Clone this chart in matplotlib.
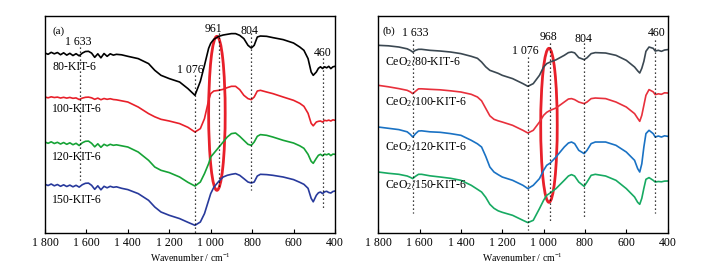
import matplotlib
matplotlib.use("Agg")
import matplotlib.pyplot as plt
from matplotlib.patches import Ellipse

plt.rcParams["font.family"] = ["Liberation Serif", "DejaVu Serif"]
plt.rcParams["mathtext.fontset"] = "custom"
plt.rcParams["mathtext.rm"] = "Liberation Serif"
plt.rcParams["mathtext.it"] = "Liberation Serif:italic"
plt.rcParams["font.size"] = 8.5

# ---- panel (a): KIT-6 supports (transmittance, arbitrary units, offset) ----
WN_A = [1800, 1785, 1770, 1755, 1740, 1725, 1710, 1695, 1680, 1665, 1650, 1635,
        1620, 1605, 1590, 1575, 1560, 1545, 1530, 1515, 1500, 1485, 1470, 1455,
        1430, 1400, 1350, 1300, 1270, 1240, 1200, 1150, 1110, 1076,
        1050, 1030, 1010, 1000, 985, 961, 940, 920, 900, 880,
        860, 840, 820, 804, 790, 775, 760, 730, 700, 650,
        600, 570, 550, 530, 515, 505, 490, 480, 470, 460,
        450, 440, 430, 420, 410, 400]

KIT_80 = [180.3, 179.0, 181.0, 179.5, 180.8, 178.6, 180.5, 178.2, 180.0, 177.8, 179.6, 177.5,
          180.2, 181.8, 182.0, 180.2, 176.0, 179.5, 175.5, 179.8, 177.0, 179.5, 178.2, 179.0,
          178.5, 177.0, 174.7, 169.7, 163.0, 158.0, 154.7, 151.3, 144.7, 138.0,
          152.0, 168.0, 185.0, 190.0, 194.0, 197.0, 198.3, 199.0, 199.7, 199.7,
          198.0, 194.7, 188.0, 185.3, 188.0, 196.3, 197.3, 197.0, 195.7, 193.7,
          190.3, 186.3, 183.0, 174.7, 161.3, 158.0, 161.3, 165.0, 166.5, 164.8,
          166.5, 165.5, 167.0, 164.7, 166.5, 167.0]

KIT_100 = [136.3, 135.5, 136.5, 135.8, 136.2, 135.3, 136.0, 135.2, 135.9, 135.0, 135.4, 133.8,
           135.2, 136.0, 136.2, 135.5, 134.0, 135.2, 133.6, 134.8, 134.0, 134.6, 133.8, 133.5,
           132.5, 131.3, 126.3, 119.7, 116.5, 114.0, 112.3, 109.7, 106.0, 101.3,
           104.7, 114.7, 133.0, 139.7, 142.3, 143.0, 144.0, 145.7, 147.0, 147.0,
           143.7, 138.0, 134.7, 133.7, 136.3, 142.3, 143.0, 141.3, 139.7, 136.3,
           133.0, 130.0, 127.0, 120.0, 110.0, 107.5, 111.3, 112.0, 112.3, 111.3,
           113.0, 112.5, 113.2, 112.3, 113.5, 113.0]

KIT_120 = [91.3, 90.0, 91.5, 89.8, 91.0, 89.3, 90.8, 89.0, 90.5, 88.6, 90.0, 87.8,
           90.5, 92.0, 92.2, 90.0, 86.5, 89.5, 86.0, 89.0, 87.5, 89.0, 88.0, 88.5,
           87.5, 86.3, 81.3, 73.0, 66.3, 63.0, 60.7, 56.3, 51.0, 47.3,
           51.3, 59.7, 69.7, 76.3, 80.0, 86.0, 91.3, 96.3, 99.7, 100.3,
           97.0, 93.0, 89.0, 88.0, 91.3, 97.0, 98.7, 98.0, 96.3, 93.0,
           90.3, 87.5, 85.0, 79.0, 72.0, 70.0, 75.0, 78.0, 79.0, 77.5,
           79.2, 78.5, 79.5, 77.7, 79.2, 79.0]

KIT_150 = [49.0, 47.8, 49.3, 47.5, 48.8, 47.0, 48.5, 46.8, 48.2, 46.5, 48.0, 46.2,
           48.6, 50.0, 50.2, 48.0, 44.0, 47.5, 43.5, 47.0, 45.5, 47.0, 46.0, 46.5,
           45.0, 43.7, 39.7, 33.0, 26.3, 21.3, 18.0, 14.7, 11.0, 8.0,
           11.3, 19.7, 33.0, 39.7, 46.0, 52.0, 56.3, 58.0, 59.0, 59.7,
           58.0, 54.7, 51.3, 50.3, 51.3, 57.3, 59.0, 58.7, 58.0, 56.3,
           53.7, 51.0, 49.0, 45.0, 35.0, 31.5, 38.0, 40.5, 41.3, 39.7,
           41.5, 42.0, 40.8, 40.3, 41.8, 42.3]

# ---- panel (b): CeO2 supported on KIT-6 ----
WN_B = [1800, 1750, 1700, 1660, 1645, 1633, 1620, 1605, 1590, 1550, 1500, 1450,
        1400, 1350, 1320, 1300, 1280, 1260, 1240, 1220, 1200, 1150, 1100, 1076,
        1050, 1020, 1000, 985, 968, 940, 900, 880, 865, 850, 830, 804,
        790, 770, 750, 700, 650, 600, 560, 545, 535, 525, 515, 505,
        490, 470, 460, 445, 430, 415, 400]

CE_80 = [188.0, 187.5, 186.3, 184.5, 183.0, 181.3, 183.0, 184.0, 184.0, 183.0, 182.3, 181.3,
         179.7, 177.0, 175.0, 171.3, 166.5, 163.0, 161.5, 160.0, 158.0, 154.7, 149.7, 147.0,
         149.7, 158.0, 166.3, 169.7, 171.3, 173.5, 178.0, 180.7, 181.3, 180.5, 175.7, 173.7,
         175.5, 179.7, 180.7, 180.3, 178.0, 173.0, 166.3, 162.5, 160.3, 165.0, 172.0, 182.0,
         186.3, 185.0, 182.3, 183.0, 182.0, 183.3, 183.7]

CE_100 = [148.0, 146.5, 144.7, 143.0, 141.5, 139.7, 142.0, 144.5, 144.5, 144.0, 143.5, 142.5,
          141.3, 139.0, 136.3, 132.5, 125.0, 117.5, 114.0, 112.5, 111.3, 108.0, 103.0, 100.3,
          103.0, 111.3, 118.0, 121.0, 123.0, 125.3, 131.3, 134.3, 134.7, 133.7, 131.3, 129.7,
          131.3, 134.7, 135.3, 134.7, 131.3, 126.3, 119.7, 115.0, 112.0, 118.0, 128.0, 138.0,
          143.7, 141.5, 138.7, 139.5, 139.0, 140.5, 140.3]

CE_120 = [106.3, 105.0, 103.7, 101.5, 99.0, 96.3, 99.5, 102.3, 102.5, 101.5, 101.0, 99.7,
          98.0, 93.0, 89.5, 86.3, 77.0, 66.3, 61.3, 58.7, 56.3, 53.0, 48.0, 44.7,
          48.0, 54.7, 63.0, 68.0, 70.3, 76.3, 86.3, 90.3, 91.3, 89.7, 83.0, 79.7,
          83.0, 89.7, 91.3, 91.3, 88.0, 81.3, 73.0, 64.7, 61.3, 69.5, 86.3, 99.7,
          103.0, 99.7, 96.3, 97.3, 96.3, 97.5, 97.0]

CE_150 = [61.3, 60.0, 59.0, 57.3, 56.0, 54.7, 57.0, 59.0, 59.0, 57.5, 56.3, 55.0,
          53.0, 48.0, 44.0, 41.3, 36.0, 29.0, 25.0, 22.5, 21.0, 18.0, 13.0, 10.7,
          13.0, 24.7, 33.0, 38.0, 40.3, 44.7, 53.0, 57.3, 58.7, 57.3, 51.3, 47.0,
          51.3, 58.0, 59.0, 57.3, 53.0, 44.7, 36.3, 31.0, 29.0, 35.0, 45.0, 54.0,
          55.7, 53.0, 51.3, 51.8, 51.5, 52.2, 52.3]

LABELS_A = ["80-KIT-6", "100-KIT-6", "120-KIT-6", "150-KIT-6"]
LABELS_B = [r"CeO$_\mathrm{2}$/80-KIT-6", r"CeO$_\mathrm{2}$/100-KIT-6",
            r"CeO$_\mathrm{2}$/120-KIT-6", r"CeO$_\mathrm{2}$/150-KIT-6"]

XTICKS = [1800, 1600, 1400, 1200, 1000, 800, 600, 400]
XTICK_LABELS = ["1 800", "1 600", "1 400", "1 200", "1 000", "800", "600", "400"]

COLORS_A = ["#000000", "#e8202a", "#16a336", "#283a9c"]
COLORS_B = ["#3b4852", "#e8303c", "#1a72c4", "#17aa62"]


def setup_axis(ax):
    ax.set_xlim(1800, 400)
    ax.set_ylim(0, 217.6)
    ax.set_yticks([])
    ax.set_xticks(XTICKS)
    ax.set_xticklabels(XTICK_LABELS)
    ax.tick_params(axis="x", direction="in", length=3, width=0.8, pad=3)
    ax.set_xlabel("Wavenumber / cm$^{-1}$", fontsize=7, labelpad=1.5)
    for sp in ax.spines.values():
        sp.set_linewidth(1.0)


def vline(ax, x, y0, y1):
    ax.plot([x, x], [y0, y1], color="black", lw=0.9, ls=(0, (1, 2.2)))


fig = plt.figure(figsize=(7.03, 2.73), dpi=100)
ax_a = fig.add_axes([0.064, 0.1454, 0.4125, 0.797])
ax_b = fig.add_axes([0.538, 0.1454, 0.4117, 0.797])

# panel (a)
for ys, c in zip([KIT_80, KIT_100, KIT_120, KIT_150], COLORS_A):
    ax_a.plot(WN_A, ys, color=c, lw=1.2)
for lab, y in zip(LABELS_A, [166, 124, 76, 33]):
    ax_a.text(1766, y, lab, ha="left", va="center")
for x, y0, y1 in [(1633, 186, 53), (1076, 158, 0), (961, 200, 45), (804, 200, 43), (460, 175, 23)]:
    vline(ax_a, x, y0, y1)
ax_a.text(1766, 202, "(a)", ha="left", va="center", fontsize=8)
ax_a.text(1640, 191, "1 633", ha="center", va="center")
ax_a.text(1100, 163, "1 076", ha="center", va="center")
ax_a.text(989, 204, "961", ha="center", va="center")
ax_a.text(815, 202, "804", ha="center", va="center")
ax_a.text(458, 180, "460", ha="center", va="center")
ax_a.add_patch(Ellipse((970, 120), 80, 154, fill=False, ec="#e8202a", lw=2))
setup_axis(ax_a)

# panel (b)
for ys, c in zip([CE_80, CE_100, CE_120, CE_150], COLORS_B):
    ax_b.plot(WN_B, ys, color=c, lw=1.2)
for lab, y in zip(LABELS_B, [171, 131, 86, 48]):
    ax_b.text(1768, y, lab, ha="left", va="center")
for x, y0, y1 in [(1633, 193, 20), (1076, 176, 3), (968, 190, 10), (804, 190, 16), (460, 193, 20)]:
    vline(ax_b, x, y0, y1)
ax_b.text(1778, 202, "(b)", ha="left", va="center", fontsize=8)
ax_b.text(1620, 200, "1 633", ha="center", va="center")
ax_b.text(1090, 182, "1 076", ha="center", va="center")
ax_b.text(974, 196, "968", ha="center", va="center")
ax_b.text(805, 194, "804", ha="center", va="center")
ax_b.text(452, 200, "460", ha="center", va="center")
ax_b.add_patch(Ellipse((974, 108), 80, 154, fill=False, ec="#e8202a", lw=2))
setup_axis(ax_b)

fig.savefig("out.png", dpi=100)
